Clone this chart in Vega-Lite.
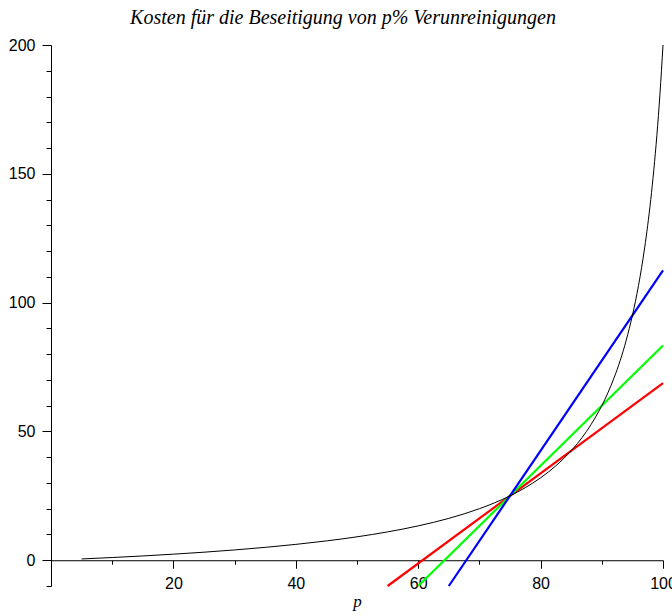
{
  "$schema": "https://vega.github.io/schema/vega-lite/v6.json",
  "autosize": {"type": "none"},
  "width": 612,
  "height": 541,
  "padding": {"left": 51, "top": 45, "right": 9, "bottom": 30},
  "background": "white",
  "title": {
    "text": "Kosten für die Beseitigung von p% Verunreinigungen",
    "font": "Liberation Serif",
    "fontStyle": "italic",
    "fontWeight": "normal",
    "fontSize": 20,
    "color": "black",
    "anchor": "middle",
    "frame": "group",
    "dx": -14,
    "offset": 9
  },
  "config": {
    "view": {"stroke": null},
    "axis": {
      "grid": false,
      "domainColor": "black",
      "tickColor": "black",
      "labelColor": "black",
      "labelFont": "Liberation Sans",
      "labelFontSize": 16,
      "domainWidth": 1,
      "tickWidth": 1
    }
  },
  "datasets": {
    "curve": [
      {"p": 5, "value": 0.5},
      {"p": 10, "value": 1.053},
      {"p": 15, "value": 1.667},
      {"p": 20, "value": 2.353},
      {"p": 25, "value": 3.125},
      {"p": 30, "value": 4},
      {"p": 35, "value": 5},
      {"p": 40, "value": 6.154},
      {"p": 45, "value": 7.5},
      {"p": 50, "value": 9.091},
      {"p": 55, "value": 11},
      {"p": 60, "value": 13.333},
      {"p": 65, "value": 16.25},
      {"p": 70, "value": 20},
      {"p": 72.5, "value": 22.31},
      {"p": 75, "value": 25},
      {"p": 77.5, "value": 28.18},
      {"p": 80, "value": 32},
      {"p": 82.5, "value": 36.67},
      {"p": 85, "value": 42.5},
      {"p": 86, "value": 45.26},
      {"p": 87.5, "value": 50},
      {"p": 89, "value": 55.63},
      {"p": 90, "value": 60},
      {"p": 91, "value": 65},
      {"p": 92, "value": 70.77},
      {"p": 93, "value": 77.5},
      {"p": 94, "value": 85.45},
      {"p": 95, "value": 95},
      {"p": 96, "value": 106.67},
      {"p": 97, "value": 121.25},
      {"p": 97.5, "value": 130},
      {"p": 98, "value": 140},
      {"p": 98.5, "value": 151.54},
      {"p": 99, "value": 165},
      {"p": 99.5, "value": 180.91},
      {"p": 100, "value": 200}
    ],
    "lines": [
      {"series": "rot", "p": 55, "value": -10},
      {"series": "rot", "p": 100, "value": 68.75},
      {"series": "grün", "p": 60, "value": -10},
      {"series": "grün", "p": 100, "value": 83.33},
      {"series": "blau", "p": 65, "value": -10},
      {"series": "blau", "p": 100, "value": 112.5}
    ]
  },
  "encoding": {
    "x": {
      "field": "p",
      "type": "quantitative",
      "scale": {"domain": [0, 100], "nice": false, "zero": false},
      "axis": {
        "orient": "bottom",
        "offset": -25.76,
        "values": [10, 20, 30, 40, 50, 60, 70, 80, 90, 100],
        "tickSize": {"condition": {"test": "datum.value % 20 === 0", "value": 8}, "value": 4},
        "labelExpr": "datum.value % 20 === 0 ? datum.label : ''",
        "labelPadding": 7,
        "labelFlush": false,
        "labelOverlap": false,
        "title": "p",
        "titleFont": "Liberation Serif",
        "titleFontStyle": "italic",
        "titleFontWeight": "normal",
        "titleFontSize": 17,
        "titleColor": "black",
        "titlePadding": 2
      }
    },
    "y": {
      "field": "value",
      "type": "quantitative",
      "scale": {"domain": [-10, 200], "nice": false, "zero": false},
      "axis": {
        "orient": "left",
        "values": [-10, 0, 10, 20, 30, 40, 50, 60, 70, 80, 90, 100, 110, 120, 130, 140, 150, 160, 170, 180, 190, 200],
        "tickSize": {"condition": {"test": "datum.value % 50 === 0", "value": 9}, "value": 5},
        "labelExpr": "datum.value % 50 === 0 ? datum.label : ''",
        "labelPadding": 7,
        "labelFlush": false,
        "labelOverlap": false,
        "title": null
      }
    }
  },
  "layer": [
    {
      "data": {"name": "lines"},
      "mark": {"type": "line", "strokeWidth": 2.2, "clip": false},
      "encoding": {
        "color": {
          "field": "series",
          "type": "nominal",
          "scale": {"domain": ["rot", "grün", "blau"], "range": ["#ff0000", "#00ff00", "#0000ff"]},
          "legend": null
        }
      }
    },
    {
      "data": {"name": "curve"},
      "mark": {"type": "line", "color": "black", "strokeWidth": 1, "interpolate": "monotone"},
      "encoding": {}
    }
  ]
}
